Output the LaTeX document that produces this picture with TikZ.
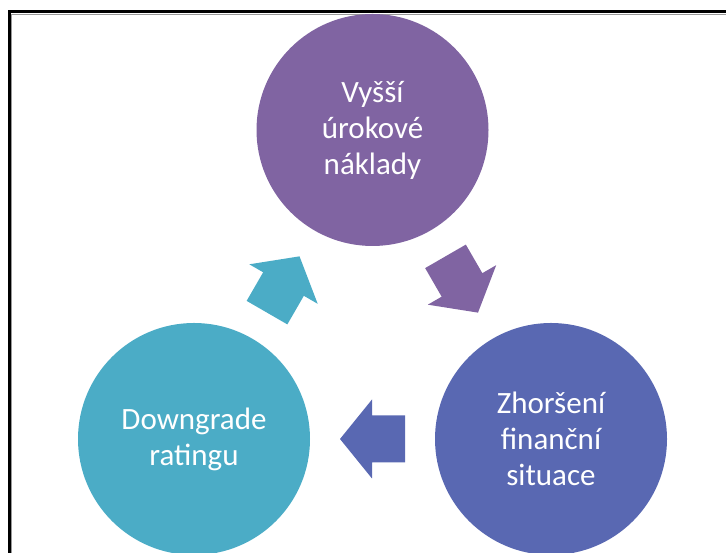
\documentclass[tikz,border=0pt]{standalone}
\usepackage{fontspec}
\setmainfont{Carlito}
\usetikzlibrary{calc}

\definecolor{cyclePurple}{RGB}{128,100,162}
\definecolor{cycleBlue}{RGB}{89,104,178}
\definecolor{cycleTeal}{RGB}{75,172,198}

\tikzset{
  stage/.style={circle, minimum size=232pt, inner sep=0pt, fill=#1,
    text=white, align=center,
    font=\fontsize{31pt}{36pt}\selectfont},
  framebox/.style={draw=black, line width=3pt},
  frameshade/.style={draw=black!40, line width=1pt}
}

% block arrow halfway between two stages, pointing from #1 to #2
\newcommand{\cyclearrow}[3]{%
  \fill[#3] let \p1=($(#2)-(#1)$), \n1={atan2(\y1,\x1)},
    \p2=($(#1)!0.5!(#2)$) in [shift={(\p2)}, rotate=\n1]
    (-32.5,-23.5) -- (0.5,-23.5) -- (0.5,-39.5) -- (32.5,0)
    -- (0.5,39.5) -- (0.5,23.5) -- (-32.5,23.5) -- cycle;}

\begin{document}
\begin{tikzpicture}[x=1pt, y=1pt]
  \useasboundingbox (0,0) rectangle (726,553);
  \clip (0,0) rectangle (726,553);

  % slide frame
  \draw[frameshade] (11.5,-20) |- (760,538.5);
  \draw[framebox] (9.5,-20) |- (760,541);

  % stages of the cycle
  \node[stage=cyclePurple] (costs) at (372.5,423) {Vyšší\\úrokové\\náklady};
  \node[stage=cycleBlue]   (worse) at (551,114) {Zhoršení\\finanční\\situace};
  \node[stage=cycleTeal]   (down)  at (194,114) {Downgrade\\ratingu};

  % arrows between stages
  \cyclearrow{costs}{worse}{cyclePurple}
  \cyclearrow{worse}{down}{cycleBlue}
  \cyclearrow{down}{costs}{cycleTeal}
\end{tikzpicture}
\end{document}
